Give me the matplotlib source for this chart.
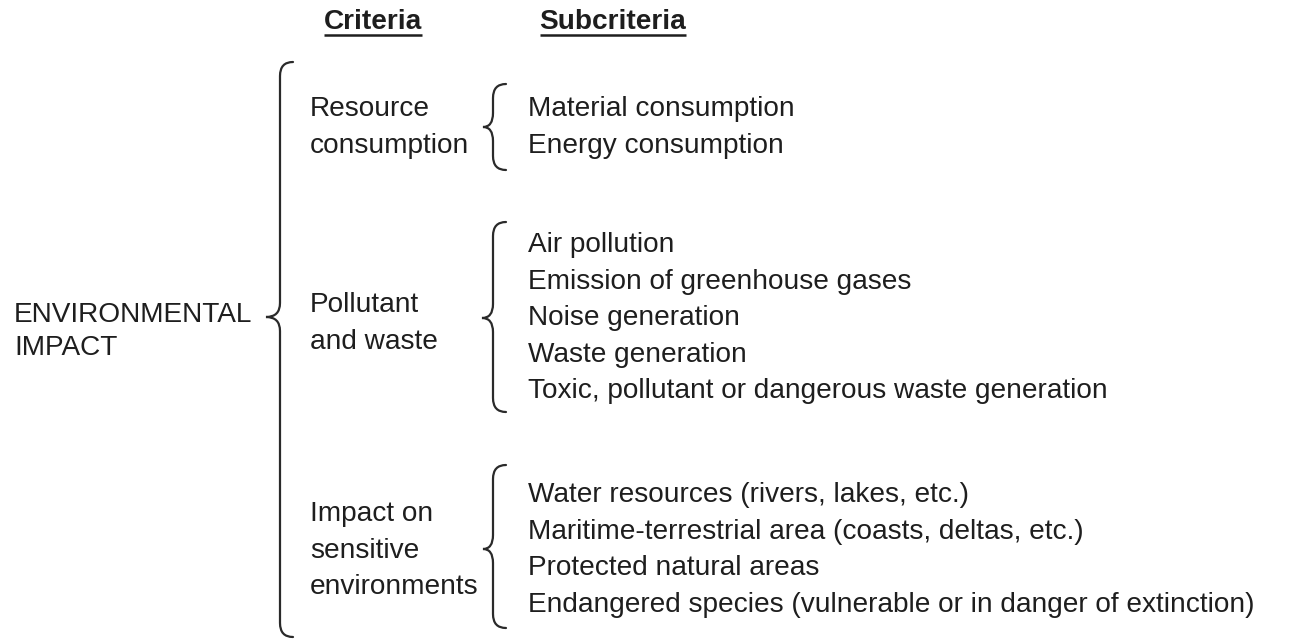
import matplotlib.pyplot as plt
from matplotlib.path import Path
from matplotlib.patches import PathPatch

plt.rcParams['font.family'] = ['Liberation Sans', 'DejaVu Sans']

headers = ['Criteria', 'Subcriteria']
root = ['ENVIRONMENTAL', 'IMPACT']
criteria = [
    ['Resource', 'consumption'],
    ['Pollutant', 'and waste'],
    ['Impact on', 'sensitive', 'environments'],
]
subcriteria = [
    ['Material consumption', 'Energy consumption'],
    ['Air pollution', 'Emission of greenhouse gases', 'Noise generation',
     'Waste generation', 'Toxic, pollutant or dangerous waste generation'],
    ['Water resources (rivers, lakes, etc.)',
     'Maritime-terrestrial area (coasts, deltas, etc.)',
     'Protected natural areas',
     'Endangered species (vulnerable or in danger of extinction)'],
]

# layout (pixel coordinates, y downwards)
crit_x, sub_x = 310, 528
line_h = 36.6
crit_base = [116, 312, 521]
sub_base = [116, 252, 502]
# brace: x_tip, x_line, x_end, y_top, y_tip, y_bot
braces = [
    (266, 280, 293, 62, 317, 637),
    (483, 493, 506, 84, 127, 170),
    (482, 493, 506, 222, 318, 412),
    (483, 493, 506, 465, 549, 628),
]

txt_color = '#1e1e1e'
fs = 20.2


def brace_path(xt, xl, xe, yt, ym, yb):
    r = min(14, (ym - yt) / 3)
    verts = [(xe, yt), (xl, yt), (xl, yt + r),
             (xl, ym - r),
             (xl, ym), (xt, ym),
             (xl, ym), (xl, ym + r),
             (xl, yb - r),
             (xl, yb), (xe, yb)]
    codes = [Path.MOVETO, Path.CURVE3, Path.CURVE3,
             Path.LINETO,
             Path.CURVE3, Path.CURVE3,
             Path.CURVE3, Path.CURVE3,
             Path.LINETO,
             Path.CURVE3, Path.CURVE3]
    return Path(verts, codes)


fig = plt.figure(figsize=(12.92, 6.44), dpi=100)
ax = fig.add_axes([0, 0, 1, 1])
ax.set_xlim(0, 1292)
ax.set_ylim(644, 0)
ax.axis('off')

hdr = []
for label, cx in zip(headers, [373, 613]):
    hdr.append(ax.text(cx, 29, label, ha='center', va='baseline',
                       fontsize=fs, fontweight='bold', color=txt_color))

for i, label in enumerate(root):
    ax.text(14, 322 + i * 33, label, ha='left', va='baseline',
            fontsize=fs, color=txt_color)

for group, yb in zip(criteria, crit_base):
    for i, label in enumerate(group):
        ax.text(crit_x, yb + i * line_h, label, ha='left', va='baseline',
                fontsize=fs, color=txt_color)

for group, yb in zip(subcriteria, sub_base):
    for i, label in enumerate(group):
        ax.text(sub_x, yb + i * line_h, label, ha='left', va='baseline',
                fontsize=fs, color=txt_color)

for b in braces:
    ax.add_patch(PathPatch(brace_path(*b), fill=False, lw=1.6,
                           edgecolor='#2a2a2a', capstyle='round'))

# underline the headers
fig.canvas.draw()
inv = ax.transData.inverted()
for t in hdr:
    bb = t.get_window_extent()
    (x0, _), (x1, _) = inv.transform([(bb.x0, bb.y0), (bb.x1, bb.y1)])
    ax.plot([x0, x1], [35, 35], color=txt_color, lw=1.8, solid_capstyle='butt')

plt.savefig('out.png', dpi=100)
